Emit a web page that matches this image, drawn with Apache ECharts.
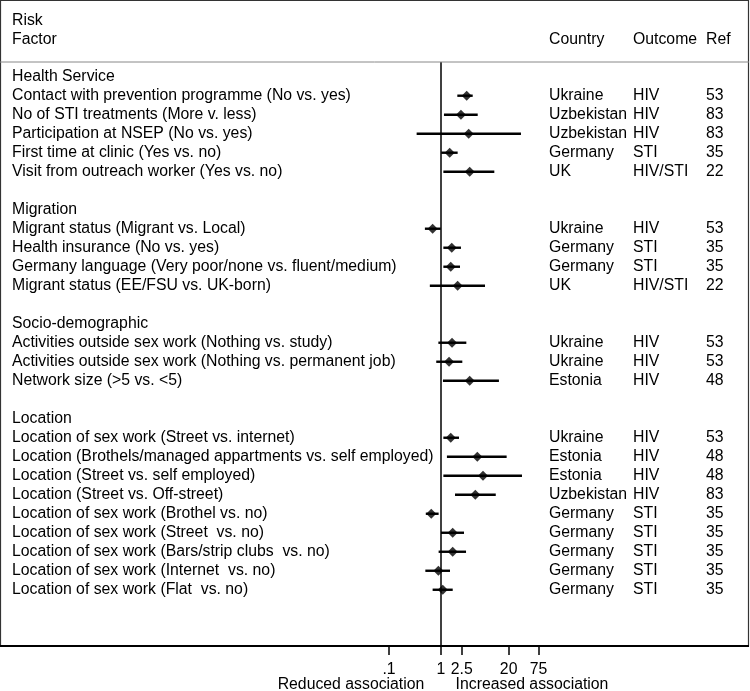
<!DOCTYPE html>
<html>
<head>
<meta charset="utf-8">
<script src="https://cdn.jsdelivr.net/npm/echarts@6/dist/echarts.min.js"></script>
<style>
html,body{margin:0;padding:0;background:#fff;}
#chart{width:750px;height:691px;}
</style>
</head>
<body>
<div id="chart"></div>
<script>
// ---- Data ----
const factors = [
  "Health Service",
  "Contact with prevention programme (No vs. yes)",
  "No of STI treatments (More v. less)",
  "Participation at NSEP (No vs. yes)",
  "First time at clinic (Yes vs. no)",
  "Visit from outreach worker (Yes vs. no)",
  "",
  "Migration",
  "Migrant status (Migrant vs. Local)",
  "Health insurance (No vs. yes)",
  "Germany language (Very poor/none vs. fluent/medium)",
  "Migrant status (EE/FSU vs. UK-born)",
  "",
  "Socio-demographic",
  "Activities outside sex work (Nothing vs. study)",
  "Activities outside sex work (Nothing vs. permanent job)",
  "Network size (>5 vs. <5)",
  "",
  "Location",
  "Location of sex work (Street vs. internet)",
  "Location (Brothels/managed appartments vs. self employed)",
  "Location (Street vs. self employed)",
  "Location (Street vs. Off-street)",
  "Location of sex work (Brothel vs. no)",
  "Location of sex work (Street  vs. no)",
  "Location of sex work (Bars/strip clubs  vs. no)",
  "Location of sex work (Internet  vs. no)",
  "Location of sex work (Flat  vs. no)"
];
const countries = ["","Ukraine","Uzbekistan","Uzbekistan","Germany","UK","","","Ukraine","Germany","Germany","UK","","","Ukraine","Ukraine","Estonia","","","Ukraine","Estonia","Estonia","Uzbekistan","Germany","Germany","Germany","Germany","Germany"];
const outcomes = ["","HIV","HIV","HIV","STI","HIV/STI","","","HIV","STI","STI","HIV/STI","","","HIV","HIV","HIV","","","HIV","HIV","HIV","HIV","STI","STI","STI","STI","STI"];
const refs = ["","53","83","83","35","22","","","53","35","35","22","","","53","53","48","","","53","48","48","83","35","35","35","35","35"];
const estimate = [null,3.12,2.42,3.41,1.47,3.56,null,null,0.69,1.61,1.54,2.09,null,null,1.63,1.43,3.56,null,null,1.54,4.99,6.42,4.57,0.65,1.68,1.68,0.89,1.08];
const ciLow    = [null,2.06,1.14,0.34,1.01,1.11,null,null,0.49,1.11,1.11,0.61,null,null,0.89,0.81,1.09,null,null,1.11,1.30,1.11,1.86,0.51,1.00,0.90,0.50,0.69];
const ciHigh   = [null,4.07,5.08,34.5,2.09,10.6,null,null,0.99,2.42,2.32,7.02,null,null,3.07,2.57,13.0,null,null,2.22,18.3,36.1,11.3,0.90,2.77,3.03,1.49,1.68];
const tickValues = [0.1, 1, 2.5, 20, 75];
const tickLabels = [".1", "1", "2.5", "20", "75"];
const headerLeft = ["Risk", "Factor"];
const headerCols = ["Country", "Outcome", "Ref"];
const axisNames = ["Reduced association", "Increased association"];

// ---- Chart ----
const FAMILY = '"Liberation Sans", Arial, sans-serif';
const FS = 15.8;
const FONT = FS + 'px ' + FAMILY;
const COLX = [549, 633, 706];
const chart = echarts.init(document.getElementById('chart'), null, {renderer: 'canvas'});

const pointData = [], ciData = [], textData = [];
factors.forEach((f, i) => {
  textData.push([1, i]);
  if (estimate[i] != null) {
    pointData.push([estimate[i], i]);
    ciData.push([ciLow[i], ciHigh[i], i]);
  }
});

const option = {
  animation: false,
  backgroundColor: '#fff',
  grid: {left: 389, width: 156, top: 62, height: 584},
  xAxis: {
    type: 'log', logBase: 10, min: 0.1, max: 100, position: 'bottom',
    axisLine: {show: false, onZero: false},
    splitLine: {show: false},
    axisTick: {show: true, customValues: tickValues, length: 9, lineStyle: {color: '#000', width: 1.5}},
    axisLabel: {
      show: true, customValues: tickValues, margin: 16,
      color: '#000', fontSize: FS, fontFamily: FAMILY,
      formatter: v => { const k = tickValues.findIndex(t => Math.abs(t - v) < 1e-9); return k >= 0 ? tickLabels[k] : ''; }
    }
  },
  yAxis: {type: 'value', min: -0.774, max: 29.96, inverse: true, show: false},
  graphic: [
    {type: 'rect', shape: {x: 0.5, y: 0.5, width: 748, height: 645.5}, style: {fill: 'none', stroke: '#333', lineWidth: 1.2}, z: 10},
    {type: 'line', shape: {x1: 0, y1: 646, x2: 749, y2: 646}, style: {stroke: '#000', lineWidth: 1.8}, z: 11},
    {type: 'line', shape: {x1: 0, y1: 62, x2: 749, y2: 62}, style: {stroke: '#888', lineWidth: 1}, z: 10},
    {type: 'text', x: 12, y: 20.5, style: {text: headerLeft[0], font: FONT, fill: '#000', verticalAlign: 'middle'}},
    {type: 'text', x: 12, y: 39.5, style: {text: headerLeft[1], font: FONT, fill: '#000', verticalAlign: 'middle'}},
    {type: 'text', x: COLX[0], y: 39.5, style: {text: headerCols[0], font: FONT, fill: '#000', verticalAlign: 'middle'}},
    {type: 'text', x: COLX[1], y: 39.5, style: {text: headerCols[1], font: FONT, fill: '#000', verticalAlign: 'middle'}},
    {type: 'text', x: COLX[2], y: 39.5, style: {text: headerCols[2], font: FONT, fill: '#000', verticalAlign: 'middle'}},
    {type: 'text', x: 351, y: 685, style: {text: axisNames[0], font: FONT, fill: '#000', align: 'center', verticalAlign: 'middle'}},
    {type: 'text', x: 532, y: 685, style: {text: axisNames[1], font: FONT, fill: '#000', align: 'center', verticalAlign: 'middle'}}
  ],
  series: [
    {
      type: 'custom', name: 'labels', clip: false, silent: true,
      data: textData,
      encode: {x: 0, y: 1},
      renderItem: (params, api) => {
        const i = params.dataIndex;
        const y = api.coord([1, api.value(1)])[1];
        const mk = (t, x) => ({type: 'text', style: {text: t, x: x, y: y, font: FONT, fill: '#000', verticalAlign: 'middle', align: 'left'}});
        return {type: 'group', children: [
          mk(factors[i], 12), mk(countries[i], COLX[0]), mk(outcomes[i], COLX[1]), mk(refs[i], COLX[2])
        ]};
      }
    },
    {
      type: 'custom', name: 'CI', clip: false, silent: true,
      data: ciData,
      encode: {x: [0, 1], y: 2},
      renderItem: (params, api) => {
        const p1 = api.coord([api.value(0), api.value(2)]);
        const p2 = api.coord([api.value(1), api.value(2)]);
        return {type: 'line', shape: {x1: p1[0], y1: p1[1], x2: p2[0], y2: p2[1]}, style: {stroke: '#000', lineWidth: 2.4}};
      }
    },
    {
      type: 'scatter', name: 'OR', data: pointData,
      symbol: 'diamond', symbolSize: [10, 10],
      itemStyle: {color: '#000'}, silent: true, z: 5,
      markLine: {
        silent: true, symbol: 'none', animation: false,
        label: {show: false},
        lineStyle: {color: '#000', width: 1.5, type: 'solid'},
        data: [{xAxis: 1}]
      }
    }
  ]
};
chart.setOption(option);
</script>
</body>
</html>
